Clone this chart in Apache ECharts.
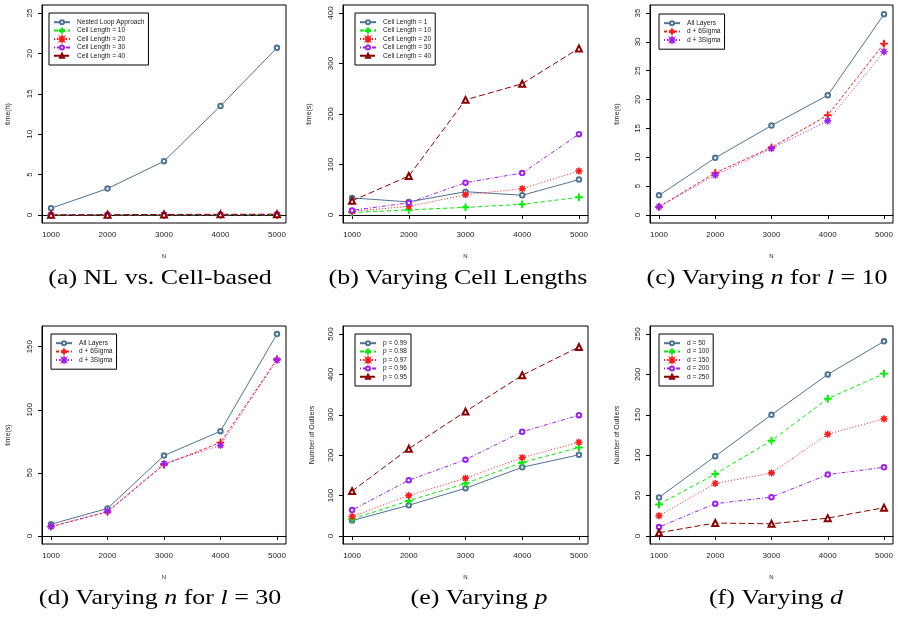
<!DOCTYPE html>
<html>
<head>
<meta charset="utf-8">
<script src="https://cdn.jsdelivr.net/npm/echarts@6/dist/echarts.min.js"></script>
<style>
  html, body { margin: 0; padding: 0; background: #fff; }
  #chart { width: 898px; height: 617px; }
</style>
</head>
<body>
<div id="chart"></div>
<script>
const nValues = [1000, 2000, 3000, 4000, 5000]
const xTicks = [1000, 2000, 3000, 4000, 5000]

// (a) NL vs. Cell-based, time in hours
const aNames = ['Nested Loop Approach', 'Cell Length = 10', 'Cell Length = 20', 'Cell Length = 30', 'Cell Length = 40']
const aNestedLoop = [0.83, 3.26, 6.65, 13.5, 20.7]
const aCell10 = [0.001, 0.003, 0.004, 0.006, 0.01]
const aCell20 = [0.002, 0.005, 0.011, 0.014, 0.024]
const aCell30 = [0.003, 0.007, 0.018, 0.023, 0.044]
const aCell40 = [0.008, 0.021, 0.063, 0.072, 0.092]
const aTicks = [0, 5, 10, 15, 20, 25]

// (b) varying cell lengths, time in seconds
const bNames = ['Cell Length = 1', 'Cell Length = 10', 'Cell Length = 20', 'Cell Length = 30', 'Cell Length = 40']
const bCell1 = [33.7, 25.8, 46, 39, 70]
const bCell10 = [4.6, 10, 15, 21, 35]
const bCell20 = [7, 17, 40, 52, 87]
const bCell30 = [9, 24, 64, 83, 160]
const bCell40 = [28, 77, 228, 260, 330]
const bTicks = [0, 100, 200, 300, 400]

// (c) varying n for l = 10
const cNames = ['All Layers', 'd + 6Sigma', 'd + 3Sigma']
const cAll = [3.4, 9.9, 15.5, 20.75, 34.8]
const c6Sigma = [1.4, 7.3, 11.7, 17.3, 29.7]
const c3Sigma = [1.4, 6.9, 11.5, 16.3, 28.3]
const cTicks = [0, 5, 10, 15, 20, 25, 30, 35]

// (d) varying n for l = 30
const dAll = [9.3, 21.8, 63.7, 83, 160]
const d6Sigma = [7.4, 19, 56.5, 74, 140]
const d3Sigma = [7.4, 19.6, 57.3, 71.7, 139.4]
const dTicks = [0, 50, 100, 150]

// (e) varying p
const eNames = ['p = 0.99', 'p = 0.98', 'p = 0.97', 'p = 0.96', 'p = 0.95']
const eP99 = [38, 76, 118, 170, 201]
const eP98 = [42, 87, 130, 182, 219]
const eP97 = [48, 100, 143, 194, 232]
const eP96 = [64, 138, 189, 258, 299]
const eP95 = [111, 216, 308, 398, 468]
const eTicks = [0, 100, 200, 300, 400, 500]

// (f) varying d
const fNames = ['d = 50', 'd = 100', 'd = 150', 'd = 200', 'd = 250']
const fD50 = [47.7, 98.7, 150, 200, 241]
const fD100 = [39, 76.7, 118, 170, 201]
const fD150 = [25, 65, 78, 126, 145]
const fD200 = [11, 40, 48, 76, 85]
const fD250 = [4, 16, 15, 22, 35]
const fTicks = [0, 50, 100, 150, 200, 250]

const BLUE = '#4e7394'
const GREEN = '#00ee00'
const RED = '#ff1a1a'
const PURPLE = '#a020f0'
const DARKRED = '#8b0000'

const plusPath = 'path://M4.3,0H5.7V4.3H10V5.7H5.7V10H4.3V5.7H0V4.3H4.3Z'
const starPath = 'path://M10,5L7.03,5.84L8.54,8.54L5.84,7.03L5,10L4.16,7.03L1.46,8.54L2.97,5.84L0,5L2.97,4.16L1.46,1.46L4.16,2.97L5,0L5.84,2.97L8.54,1.46L7.03,4.16Z'

const styles = {
  blue: { color: BLUE, dash: 'solid', symbol: 'emptyCircle', size: 4.5 },
  green: { color: GREEN, dash: [4, 3], symbol: plusPath, size: 7 },
  red: { color: RED, dash: [1, 2], symbol: starPath, size: 7 },
  purple: { color: PURPLE, dash: [1, 2, 4, 2], symbol: 'emptyCircle', size: 4.5 },
  darkred: { color: DARKRED, dash: [6, 3], symbol: 'emptyTriangle', size: 6 },
  red6: { color: RED, dash: [3, 2], symbol: plusPath, size: 7 },
  purple3: { color: PURPLE, dash: [1, 2], symbol: starPath, size: 7 }
}

const grids = [
  { left: 42, top: 5, width: 244, height: 218 },
  { left: 343, top: 5, width: 245, height: 218 },
  { left: 650, top: 5, width: 243, height: 218 },
  { left: 42, top: 326, width: 244, height: 218 },
  { left: 343, top: 326, width: 245, height: 218 },
  { left: 650, top: 326, width: 243, height: 218 }
]

const yConf = [
  { ticks: aTicks, min: -1, max: 26, name: 'time(h)', gap: 30 },
  { ticks: bTicks, min: -16, max: 416, name: 'time(s)', gap: 30 },
  { ticks: cTicks, min: -1.4, max: 36.4, name: 'time(s)', gap: 29 },
  { ticks: dTicks, min: -6.4, max: 166.4, name: 'time(s)', gap: 30 },
  { ticks: eTicks, min: -20, max: 520, name: 'Number of Outliers', gap: 27 },
  { ticks: fTicks, min: -10, max: 260, name: 'Number of Outliers', gap: 29 }
]

const labelFont = { fontFamily: 'Liberation Sans', fontSize: 8, color: '#222' }

const xAxes = grids.map((g, i) => ({
  type: 'value',
  gridIndex: i,
  min: 840,
  max: 5160,
  name: 'N',
  nameLocation: 'middle',
  nameGap: 30,
  nameTextStyle: { fontFamily: 'Liberation Sans', fontSize: 6, color: '#222' },
  axisLine: { show: true, lineStyle: { color: '#000', width: 1 } },
  axisTick: { show: true, inside: false, length: 4, customValues: xTicks, lineStyle: { color: '#000' } },
  axisLabel: { ...labelFont, margin: 8, customValues: xTicks, formatter: v => String(v) },
  splitLine: { show: false }
}))

const yAxes = yConf.map((c, i) => ({
  type: 'value',
  gridIndex: i,
  min: c.min,
  max: c.max,
  name: c.name,
  nameLocation: 'middle',
  nameGap: c.gap,
  nameTextStyle: { fontFamily: 'Liberation Sans', fontSize: 7, color: '#222' },
  axisLine: { show: true, lineStyle: { color: '#000', width: 1 } },
  axisTick: { show: true, inside: false, length: 4, customValues: c.ticks, lineStyle: { color: '#000' } },
  axisLabel: { ...labelFont, margin: 8, rotate: 90, customValues: c.ticks, formatter: v => String(v) },
  splitLine: { show: false }
}))

const makeSeries = (name, values, st, idx) => ({
  name: name,
  type: 'line',
  xAxisIndex: idx,
  yAxisIndex: idx,
  data: nValues.map((n, k) => [n, values[k]]),
  symbol: st.symbol,
  symbolSize: st.size,
  showAllSymbol: true,
  lineStyle: { color: st.color, width: 1, type: st.dash },
  itemStyle: { color: st.color, borderColor: st.color, borderWidth: 1 },
  emphasis: { disabled: true }
})

const series = [
  makeSeries(aNames[0], aNestedLoop, styles.blue, 0),
  makeSeries(aNames[1], aCell10, styles.green, 0),
  makeSeries(aNames[2], aCell20, styles.red, 0),
  makeSeries(aNames[3], aCell30, styles.purple, 0),
  makeSeries(aNames[4], aCell40, styles.darkred, 0),

  makeSeries(bNames[0], bCell1, styles.blue, 1),
  makeSeries(bNames[1], bCell10, styles.green, 1),
  makeSeries(bNames[2], bCell20, styles.red, 1),
  makeSeries(bNames[3], bCell30, styles.purple, 1),
  makeSeries(bNames[4], bCell40, styles.darkred, 1),

  makeSeries(cNames[0], cAll, styles.blue, 2),
  makeSeries(cNames[1], c6Sigma, styles.red6, 2),
  makeSeries(cNames[2], c3Sigma, styles.purple3, 2),

  makeSeries(cNames[0], dAll, styles.blue, 3),
  makeSeries(cNames[1], d6Sigma, styles.red6, 3),
  makeSeries(cNames[2], d3Sigma, styles.purple3, 3),

  makeSeries(eNames[0], eP99, styles.blue, 4),
  makeSeries(eNames[1], eP98, styles.green, 4),
  makeSeries(eNames[2], eP97, styles.red, 4),
  makeSeries(eNames[3], eP96, styles.purple, 4),
  makeSeries(eNames[4], eP95, styles.darkred, 4),

  makeSeries(fNames[0], fD50, styles.blue, 5),
  makeSeries(fNames[1], fD100, styles.green, 5),
  makeSeries(fNames[2], fD150, styles.red, 5),
  makeSeries(fNames[3], fD200, styles.purple, 5),
  makeSeries(fNames[4], fD250, styles.darkred, 5)
]

const legendPos = [
  { names: aNames, left: 49, top: 13 },
  { names: bNames, left: 355, top: 13 },
  { names: cNames, left: 659, top: 14 },
  { names: cNames, left: 51, top: 334 },
  { names: eNames, left: 355, top: 334 },
  { names: fNames, left: 659, top: 334 }
]

const legends = legendPos.map(l => ({
  data: l.names,
  left: l.left,
  top: l.top,
  orient: 'vertical',
  selectedMode: false,
  backgroundColor: '#fff',
  borderColor: '#000',
  borderWidth: 1,
  borderRadius: 0,
  padding: [5, 4, 5, 4],
  itemGap: 0,
  itemWidth: 16,
  itemHeight: 5,
  textStyle: { fontFamily: 'Liberation Sans', fontSize: 6.6, color: '#222', lineHeight: 8.4, padding: [0, 0, 0, 2] }
}))

const captions = [
  { x: 160, y: 278, text: '(a) NL vs. Cell-based' },
  { x: 458, y: 278, text: '(b) Varying Cell Lengths' },
  { x: 767, y: 278, text: '(c) Varying {i|n} for {i|l} = 10' },
  { x: 160, y: 598, text: '(d) Varying {i|n} for {i|l} = 30' },
  { x: 479, y: 598, text: '(e) Varying {i|p}' },
  { x: 776, y: 598, text: '(f) Varying {i|d}' }
]

const captionFont = 'Liberation Serif'

const graphics = captions.map(c => ({
  type: 'text',
  x: c.x,
  y: c.y,
  scaleX: 1.18,
  silent: true,
  style: {
    text: c.text,
    fontFamily: captionFont,
    fontSize: 22,
    fill: '#000',
    align: 'center',
    verticalAlign: 'middle',
    rich: {
      i: { fontFamily: captionFont, fontSize: 22, fontStyle: 'italic', fill: '#000' }
    }
  }
}))

const chart = echarts.init(document.getElementById('chart'), null, { renderer: 'canvas' })

chart.setOption({
  animation: false,
  backgroundColor: '#fff',
  grid: grids.map(g => ({ ...g, show: true, borderColor: '#000', borderWidth: 1, backgroundColor: 'transparent' })),
  xAxis: xAxes,
  yAxis: yAxes,
  legend: legends,
  series: series,
  graphic: graphics
})

window.addEventListener('resize', () => {
  chart.resize()
})
</script>
</body>
</html>
